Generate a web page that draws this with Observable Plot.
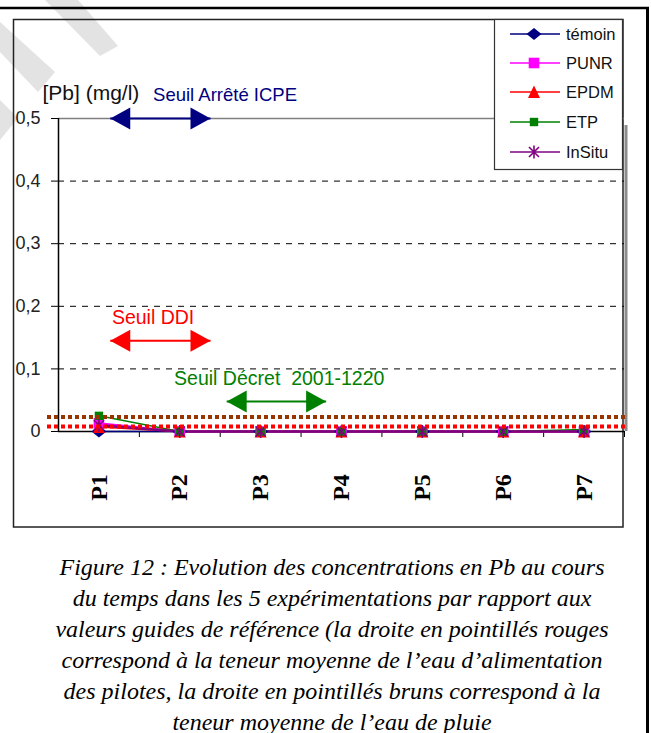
<!DOCTYPE html>
<html><head><meta charset="utf-8">
<script src="https://cdn.jsdelivr.net/npm/d3@7"></script>
<script src="https://cdn.jsdelivr.net/npm/@observablehq/plot@0.6"></script>
<style>
html,body{margin:0;padding:0;background:#fff}
body{width:651px;height:733px;overflow:hidden;position:relative;font-family:"Liberation Sans",Arial,sans-serif}
#bg,#chart,#legend{position:absolute;left:0;top:0}
#caption{position:absolute;left:13px;width:638px;top:552px;text-align:center;font-family:"Liberation Serif","Times New Roman",serif;font-style:italic;font-size:24px;line-height:31px;white-space:nowrap;color:#000}
</style></head>
<body>
<svg id="bg" width="651" height="733"></svg>
<div id="chart"></div>
<svg id="legend" width="651" height="540"></svg>
<div id="caption"></div>
<script>
// ---------- data ----------
const categories = ["P1","P2","P3","P4","P5","P6","P7"];
const seriesNames = ["témoin","PUNR","EPDM","ETP","InSitu"];
const seriesColors = ["#000080","#ff00ff","#ff0000","#008000","#800080"];
const temoin = [0, 0, 0, 0, 0, 0, 0];
const punr   = [0.013, 0, 0, 0, 0, 0, 0];
const epdm   = [0.007, 0, 0, 0, 0, 0, 0];
const etp    = [0.025, 0, 0, 0, 0, 0, 0.003];
const insitu = [0.010, 0, 0, 0, 0, 0, 0];
const yTicks = [0, 0.1, 0.2, 0.3, 0.4, 0.5];
const gridTicks = [0.1, 0.2, 0.3, 0.4];
const meanRainWater = 0.023;   // brown dotted line
const meanSupplyWater = 0.008; // red dotted line
const thresholdLabels = ["Seuil Arrêté ICPE", "Seuil DDI", "Seuil Décret  2001-1220"];
const thresholdColors = ["#000080", "#ff0000", "#008000"];
const thresholdY      = [0.5, 0.145, 0.048];
const thresholdX1     = [1.14, 1.14, 2.58];
const thresholdX2     = [2.38, 2.38, 3.81];
const thresholdLabelX = [2.56, 1.67, 3.23];
const thresholdFont   = [18.5, 19.5, 19.5];
const yLabel = "[Pb] (mg/l)";
const captionLines = [
  "Figure 12 : Evolution des concentrations en Pb au cours",
  "du temps dans les 5 expérimentations par rapport aux",
  "valeurs guides de référence (la droite en pointillés rouges",
  "correspond à la teneur moyenne de l’eau d’alimentation",
  "des pilotes, la droite en pointillés bruns correspond à la",
  "teneur moyenne de l’eau de pluie"
];

// ---------- symbols ----------
const symDiamond = {draw(c){c.moveTo(-7.5,0);c.lineTo(0,-6);c.lineTo(7.5,0);c.lineTo(0,6);c.closePath();}};
const symSquareBig = {draw(c){c.rect(-5.3,-5.3,10.6,10.6);}};
const symTriangle = {draw(c){c.moveTo(0,-6.5);c.lineTo(6,6);c.lineTo(-6,6);c.closePath();}};
const symSquareSmall = {draw(c){c.rect(-4.2,-4.2,8.4,8.4);}};
const symStar = {draw(c){c.moveTo(-5,-5);c.lineTo(5,5);c.moveTo(-5,5);c.lineTo(5,-5);c.moveTo(0,-6.5);c.lineTo(0,6.5);}};
const headRight = {draw(c){c.moveTo(0,0);c.lineTo(-20,-11);c.lineTo(-20,11);c.closePath();}};
const headLeft  = {draw(c){c.moveTo(0,0);c.lineTo(20,-11);c.lineTo(20,11);c.closePath();}};

const seriesValues = [temoin, punr, epdm, etp, insitu];
const seriesSymbols = [symDiamond, symSquareBig, symTriangle, symSquareSmall, symStar];
const seriesFilled = [true, true, true, true, false];
const lineWidths = [1.5, 2, 1.5, 1.5, 2.5];

const series = seriesNames.map((name, k) => ({
  name, color: seriesColors[k], symbol: seriesSymbols[k], filled: seriesFilled[k], width: lineWidths[k],
  rows: categories.map((c, i) => ({cat: c, xi: i + 1, value: seriesValues[k][i]}))
}));
const thresholds = thresholdLabels.map((label, i) => ({
  label, color: thresholdColors[i], y: thresholdY[i], x1: thresholdX1[i], x2: thresholdX2[i], lx: thresholdLabelX[i], fs: thresholdFont[i]
}));
const catRows = categories.map((c, i) => ({cat: c, xi: i + 1}));
const boundaries = d3.range(1.5, categories.length + 0.6, 1);
const fmt = d => d === 0 ? "0" : d.toFixed(1).replace(".", ",");

// ---------- plot ----------
const marks = [
  Plot.ruleY(gridTicks, {stroke: "#000", strokeWidth: 1, strokeDasharray: "6,6"}),
  Plot.ruleY([0.5], {stroke: "#808080", strokeWidth: 1.5}),
  Plot.ruleX([categories.length + 0.5], {y1: 0, y2: 0.5, stroke: "#8c8c8c", strokeWidth: 3, dx: 1.5, insetBottom: -7}),
  Plot.axisY({ticks: yTicks, tickFormat: fmt, tickSize: 7, tickPadding: 11, label: null, fontSize: 18, fill: "#222"}),
  Plot.axisX({ticks: boundaries, tickFormat: () => "", tickSize: 6, label: null}),
  Plot.ruleX([0.5], {y1: 0, y2: 0.5, stroke: "#000", strokeWidth: 1.5}),
  Plot.ruleY([0], {stroke: "#000", strokeWidth: 1.5}),
];
for (const s of series) {
  marks.push(Plot.line(s.rows, {x: "xi", y: "value", stroke: s.color, strokeWidth: s.width}));
}
for (const s of series) {
  marks.push(Plot.dot(s.rows, s.filled
    ? {x: "xi", y: "value", symbol: s.symbol, fill: s.color, stroke: "none", r: 6}
    : {x: "xi", y: "value", symbol: s.symbol, fill: "none", stroke: s.color, strokeWidth: 1.6, r: 6}));
}
marks.push(
  Plot.ruleY([meanRainWater], {stroke: "#993300", strokeWidth: 4, strokeDasharray: "4,3", insetLeft: -11, insetRight: -2}),
  Plot.ruleY([meanSupplyWater], {stroke: "#ff0000", strokeWidth: 4, strokeDasharray: "4,3", insetLeft: -11, insetRight: -2}),
  Plot.link(thresholds, {x1: "x1", x2: "x2", y1: "y", y2: "y", stroke: "color", strokeWidth: 2}),
  Plot.dot(thresholds, {x: "x1", y: "y", symbol: headLeft, fill: "color", stroke: "none"}),
  Plot.dot(thresholds, {x: "x2", y: "y", symbol: headRight, fill: "color", stroke: "none"}),
  Plot.text(thresholds, {x: "lx", y: "y", text: "label", fill: "color", dy: -23, fontSize: d => d.fs}),
  Plot.text([yLabel], {frameAnchor: "top-left", text: d => d, textAnchor: "start", dx: -16, dy: -33, fontSize: 21, fill: "#111"}),
  Plot.text(catRows, {x: "xi", y: () => 0, text: "cat", rotate: -90, dy: 56, fontSize: 24, fontWeight: "bold",
    fontFamily: "Liberation Serif, Times New Roman, serif", fill: "#000"})
);

const plot = Plot.plot({
  width: 651, height: 540,
  marginLeft: 58, marginRight: 27, marginTop: 118, marginBottom: 109,
  x: {type: "linear", domain: [0.5, categories.length + 0.5], axis: null},
  y: {domain: [0, 0.5], axis: null},
  style: {background: "transparent", fontFamily: "Liberation Sans, Arial, sans-serif", fontSize: "18px", overflow: "visible"},
  marks
});
document.getElementById("chart").appendChild(plot);

// ---------- frame / background ----------
const bg = d3.select("#bg");
bg.append("polygon").attr("points", "45,0 78,0 118,46 100,56").attr("fill", "#e3e3e3");
bg.append("polygon").attr("points", "0,22 0,52 38,92 55,72").attr("fill", "#e3e3e3");
bg.append("polygon").attr("points", "0,100 18,118 0,140").attr("fill", "#e3e3e3");
bg.append("line").attr("x1", 0).attr("x2", 649).attr("y1", 8).attr("y2", 8).attr("stroke", "#000").attr("stroke-width", 2.5);
bg.append("line").attr("x1", 647.5).attr("x2", 647.5).attr("y1", 7).attr("y2", 733).attr("stroke", "#000").attr("stroke-width", 3);
bg.append("rect").attr("x", 13.5).attr("y", 19.5).attr("width", 609.5).attr("height", 507.5)
  .attr("fill", "none").attr("stroke", "#222").attr("stroke-width", 1.5);

// ---------- legend ----------
const lg = d3.select("#legend");
lg.append("rect").attr("x", 494.5).attr("y", 19.5).attr("width", 128).attr("height", 150)
  .attr("fill", "#fff").attr("stroke", "#333").attr("stroke-width", 1.2);
const rowY = [34, 63, 92, 122, 152];
series.forEach((s, k) => {
  const g = lg.append("g");
  g.append("line").attr("x1", 510).attr("x2", 560).attr("y1", rowY[k]).attr("y2", rowY[k])
    .attr("stroke", s.color).attr("stroke-width", 1.7);
  g.append("path").attr("d", d3.symbol().type(s.symbol)())
    .attr("transform", `translate(534,${rowY[k]})`)
    .attr("fill", s.filled ? s.color : "none").attr("stroke", s.filled ? "none" : s.color).attr("stroke-width", 1.6);
  g.append("text").attr("x", 566).attr("y", rowY[k]).attr("dy", "0.35em")
    .attr("font-size", 16.5).attr("fill", "#111").text(s.name);
});

// ---------- caption ----------
document.getElementById("caption").innerHTML = captionLines.map(l => `<div>${l}</div>`).join("");
</script>
</body></html>
